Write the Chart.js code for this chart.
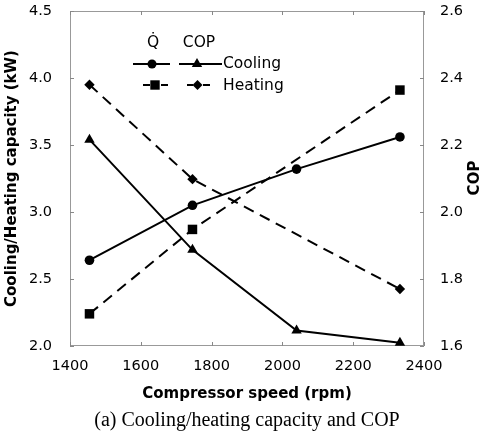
<!DOCTYPE html>
<html><head><meta charset="utf-8">
<script src="https://cdn.jsdelivr.net/npm/chart.js@4.4.1/dist/chart.umd.min.js"></script>
<style>html,body{margin:0;padding:0;background:#fff;}#wrap{width:483px;height:435px;}</style>
</head><body><div id="wrap"><canvas id="c" width="483" height="435"></canvas></div>
<script>
// ---- data ----
const speeds = [1455, 1746, 2040, 2332];
const coolingCapacity = [2.64, 3.05, 3.32, 3.56];
const heatingCapacity = [2.24, 2.87, null, 3.91];
const coolingCOP = [2.216, 1.887, 1.646, 1.61];
const heatingCOP = [2.38, 2.098, null, 1.77];
const xTicks = [1400, 1600, 1800, 2000, 2200, 2400];
const capTicks = [2.0, 2.5, 3.0, 3.5, 4.0, 4.5];
const copTicks = [1.6, 1.8, 2.0, 2.2, 2.4, 2.6];

const FONT = "'DejaVu Sans', sans-serif";
const pts = ys => speeds.map((x, i) => ({x: x, y: ys[i]}));

function marker(ctx, shape, x, y, r) {
  ctx.beginPath();
  if (shape === 'circle') ctx.arc(x, y, r, 0, Math.PI * 2);
  else if (shape === 'rect') ctx.rect(x - r, y - r, 2 * r, 2 * r);
  else if (shape === 'triangle') { ctx.moveTo(x, y - r); ctx.lineTo(x + r * 0.866, y + r * 0.5); ctx.lineTo(x - r * 0.866, y + r * 0.5); ctx.closePath(); }
  else if (shape === 'diamond') { ctx.moveTo(x, y - r); ctx.lineTo(x + r, y); ctx.lineTo(x, y + r); ctx.lineTo(x - r, y); ctx.closePath(); }
  ctx.fill();
}
function seg(ctx, x1, x2, y) { ctx.beginPath(); ctx.moveTo(x1, y); ctx.lineTo(x2, y); ctx.stroke(); }

const decor = {
  id: 'decor',
  beforeDatasetsDraw(chart) {
    const {ctx, chartArea: a, scales} = chart;
    ctx.save();
    ctx.strokeStyle = '#999';
    ctx.lineWidth = 1;
    ctx.strokeRect(a.left + 0.5, a.top + 0.5, a.right - a.left - 1, a.bottom - a.top - 1);
    ctx.strokeStyle = '#888';
    ctx.beginPath();
    capTicks.forEach(v => { const y = Math.round(scales.y.getPixelForValue(v)) + 0.5; ctx.moveTo(a.left, y); ctx.lineTo(a.left + 4, y); });
    copTicks.forEach(v => { const y = Math.round(scales.y1.getPixelForValue(v)) + 0.5; ctx.moveTo(a.right - 4, y); ctx.lineTo(a.right, y); });
    xTicks.forEach(v => { const x = Math.round(scales.x.getPixelForValue(v)) + 0.5; ctx.moveTo(x, a.bottom); ctx.lineTo(x, a.bottom - 4); ctx.moveTo(x, a.top); ctx.lineTo(x, a.top + 4); });
    ctx.stroke();
    ctx.restore();
  },
  afterDraw(chart) {
    const {ctx} = chart;
    ctx.save();
    ctx.fillStyle = '#000';
    ctx.strokeStyle = '#000';
    // right axis title, reading bottom to top
    ctx.font = "bold 15px " + FONT;
    ctx.textAlign = 'center'; ctx.textBaseline = 'middle';
    ctx.translate(475, 178); ctx.rotate(-Math.PI / 2); ctx.fillText('COP', 0, 0);
    ctx.setTransform(1, 0, 0, 1, 0, 0);
    // legend
    ctx.font = "15.5px " + FONT;
    ctx.textAlign = 'center';
    ctx.fillText('Q\u0307', 153, 43);
    ctx.fillText('COP', 199, 43);
    ctx.textAlign = 'left';
    ctx.fillText('Cooling', 223, 64);
    ctx.fillText('Heating', 223, 86);
    ctx.lineWidth = 2;
    seg(ctx, 133, 170, 64); marker(ctx, 'circle', 152, 64, 4.5);
    seg(ctx, 179, 222, 64); marker(ctx, 'triangle', 197, 64, 6);
    seg(ctx, 143, 150, 85); seg(ctx, 161, 168, 85); marker(ctx, 'rect', 155, 85, 4.7);
    seg(ctx, 187, 193, 85); seg(ctx, 203, 210, 85); marker(ctx, 'diamond', 197.5, 85, 5);
    ctx.restore();
  }
};

const base = {borderColor: '#000', backgroundColor: '#000', pointBackgroundColor: '#000', pointBorderColor: '#000',
  borderWidth: 2, pointBorderWidth: 0, tension: 0, spanGaps: true, clip: false, pointHoverRadius: 0};

new Chart(document.getElementById('c'), {
  type: 'line',
  data: {
    datasets: [
      Object.assign({}, base, {label: 'Cooling Q', data: pts(coolingCapacity), yAxisID: 'y', pointStyle: 'circle', pointRadius: 4.8}),
      Object.assign({}, base, {label: 'Heating Q', data: pts(heatingCapacity), yAxisID: 'y', pointStyle: 'rect', pointRadius: 6.7, borderDash: [11, 7]}),
      Object.assign({}, base, {label: 'Cooling COP', data: pts(coolingCOP), yAxisID: 'y1', pointStyle: 'triangle', pointRadius: 6}),
      Object.assign({}, base, {label: 'Heating COP', data: pts(heatingCOP), yAxisID: 'y1', pointStyle: 'rectRot', pointRadius: 5.2, borderDash: [11, 7]})
    ]
  },
  options: {
    responsive: false,
    animation: false,
    devicePixelRatio: 1,
    layout: {padding: {top: 11, left: 0, right: 0, bottom: 0}},
    plugins: {
      legend: {display: false},
      tooltip: {enabled: false},
      title: {display: true, position: 'bottom', fullSize: false, text: '(a) Cooling/heating capacity and COP',
        color: '#000', font: {family: "'Liberation Serif', 'Times New Roman', serif", size: 20, weight: 'normal', lineHeight: 1.2},
        padding: {top: 0, bottom: 2}}
    },
    scales: {
      x: {
        type: 'linear', min: 1400, max: 2400,
        afterBuildTicks: s => { s.ticks = xTicks.map(v => ({value: v})); },
        afterFit: s => { s.height = 63; s.paddingLeft = 0; s.paddingRight = 0; },
        grid: {display: false}, border: {display: false},
        ticks: {color: '#000', font: {family: FONT, size: 14.5}, padding: 4, maxRotation: 0, callback: v => String(v)},
        title: {display: true, text: 'Compressor speed (rpm)', color: '#000', font: {family: FONT, size: 15, weight: 'bold', lineHeight: 1.2}, padding: {top: 0, bottom: 6}}
      },
      y: {
        type: 'linear', position: 'left', min: 2, max: 4.5,
        afterBuildTicks: s => { s.ticks = capTicks.map(v => ({value: v})); },
        afterFit: s => { s.width = 70; s.paddingTop = 0; s.paddingBottom = 0; },
        grid: {display: false}, border: {display: false},
        ticks: {color: '#000', font: {family: FONT, size: 14.5}, padding: 10, callback: v => v.toFixed(1)},
        title: {display: true, text: 'Cooling/Heating capacity (kW)', color: '#000', font: {family: FONT, size: 15, weight: 'bold', lineHeight: 1.2}, padding: {top: 3, bottom: 0}}
      },
      y1: {
        type: 'linear', position: 'right', min: 1.6, max: 2.6,
        afterBuildTicks: s => { s.ticks = copTicks.map(v => ({value: v})); },
        afterFit: s => { s.width = 59; s.paddingTop = 0; s.paddingBottom = 0; },
        grid: {display: false}, border: {display: false},
        ticks: {color: '#000', font: {family: FONT, size: 14.5}, padding: 8, callback: v => v.toFixed(1)}
      }
    }
  },
  plugins: [decor]
});
</script>
</body></html>
